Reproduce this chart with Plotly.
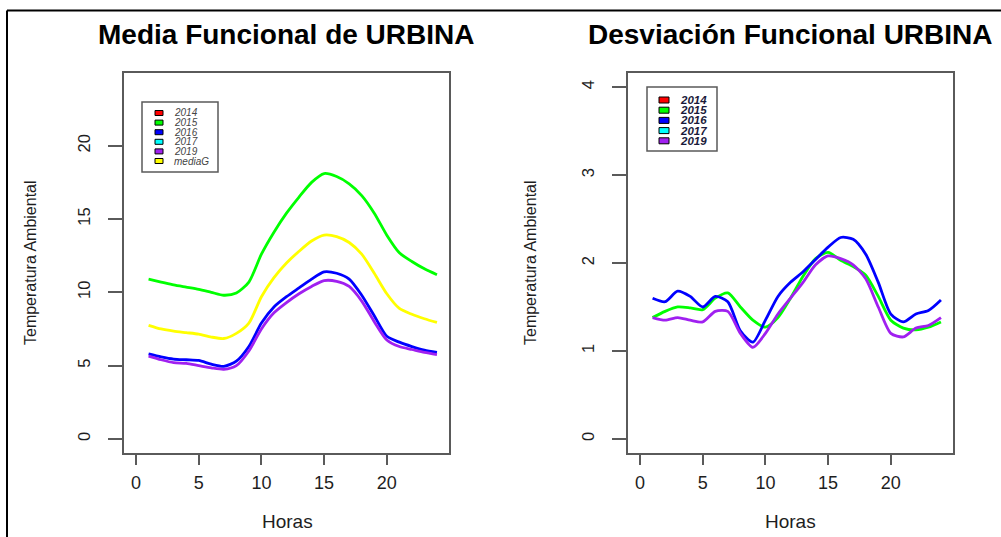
import plotly.graph_objects as go

# ---- data -------------------------------------------------------------
horas = list(range(1, 25))

# Media funcional (temperatura ambiental) por año
media_2015 = [10.9, 10.7, 10.5, 10.35, 10.2, 10.0, 9.8, 9.95, 10.7, 12.6, 14.1, 15.4,
              16.5, 17.5, 18.1, 17.9, 17.4, 16.6, 15.4, 13.9, 12.7, 12.1, 11.6, 11.2]
media_2016 = [5.8, 5.6, 5.45, 5.4, 5.35, 5.1, 4.95, 5.3, 6.3, 7.9, 9.0, 9.7,
              10.3, 10.9, 11.4, 11.3, 10.9, 9.8, 8.4, 7.0, 6.6, 6.3, 6.05, 5.9]
media_2019 = [5.65, 5.4, 5.2, 5.15, 5.0, 4.85, 4.75, 5.0, 6.0, 7.5, 8.6, 9.3,
              9.9, 10.4, 10.8, 10.75, 10.4, 9.4, 8.0, 6.75, 6.3, 6.1, 5.9, 5.75]
media_g = [7.75, 7.5, 7.35, 7.25, 7.15, 6.95, 6.85, 7.2, 7.9, 9.7, 11.0, 12.0,
           12.8, 13.5, 13.9, 13.8, 13.4, 12.6, 11.3, 9.9, 8.9, 8.5, 8.2, 7.95]

# Desviación funcional por año
desv_2015 = [1.38, 1.45, 1.5, 1.49, 1.47, 1.6, 1.66, 1.5, 1.35, 1.27, 1.38, 1.6,
             1.85, 2.05, 2.12, 2.03, 1.96, 1.86, 1.62, 1.35, 1.26, 1.24, 1.27, 1.33]
desv_2016 = [1.6, 1.56, 1.68, 1.62, 1.5, 1.62, 1.56, 1.23, 1.1, 1.35, 1.62, 1.78,
             1.9, 2.04, 2.18, 2.29, 2.27, 2.1, 1.78, 1.42, 1.33, 1.42, 1.46, 1.58]
desv_2019 = [1.38, 1.35, 1.38, 1.35, 1.33, 1.45, 1.45, 1.2, 1.04, 1.2, 1.42, 1.6,
             1.78, 1.98, 2.08, 2.05, 1.98, 1.82, 1.5, 1.2, 1.16, 1.26, 1.29, 1.38]

ticks_x = [0, 5, 10, 15, 20]
ticks_media = [0, 5, 10, 15, 20]
ticks_desv = [0, 1, 2, 3, 4]

leyenda_media = ["2014", "2015", "2016", "2017", "2019", "mediaG"]
colores_media = ["#FF0000", "#00FF00", "#0000FF", "#00FFFF", "#A020F0", "#FFFF00"]
leyenda_desv = ["2014", "2015", "2016", "2017", "2019"]
colores_desv = ["#FF0000", "#00FF00", "#0000FF", "#00FFFF", "#A020F0"]

# ---- layout helpers ------------------------------------------------------
W, H = 1001, 537
FONT = "Liberation Sans, Arial, sans-serif"
AXIS_COL = "#5a5a5a"
TXT_COL = "#1e1e1e"


def px(x):
    return x / W


def py(y):
    return 1 - y / H


fig = go.Figure()

lw = 2.8
for serie, col in [(media_2015, "#00FF00"), (media_g, "#FFFF00"),
                   (media_2016, "#0000FF"), (media_2019, "#A020F0")]:
    fig.add_trace(go.Scatter(x=horas, y=serie, mode="lines", xaxis="x", yaxis="y",
                             line=dict(color=col, width=lw, shape="spline", smoothing=0.7),
                             showlegend=False, hoverinfo="skip"))

for serie, col in [(desv_2015, "#00FF00"), (desv_2016, "#0000FF"), (desv_2019, "#A020F0")]:
    fig.add_trace(go.Scatter(x=horas, y=serie, mode="lines", xaxis="x2", yaxis="y2",
                             line=dict(color=col, width=lw, shape="spline", smoothing=0.7),
                             showlegend=False, hoverinfo="skip"))

common_axis = dict(showgrid=False, zeroline=False, showline=True, mirror=True,
                   linecolor=AXIS_COL, linewidth=1.5, ticks="outside",
                   tickcolor=AXIS_COL, tickwidth=1.5)

xax = dict(common_axis, range=[-0.96, 24.96], tickvals=ticks_x, ticklen=10,
           tickfont=dict(family=FONT, size=18, color=TXT_COL), ticklabelstandoff=3)
yax = dict(common_axis, ticklen=14, tickangle=-90,
           tickfont=dict(family=FONT, size=16.5, color=TXT_COL), ticklabelstandoff=12)

fig.update_layout(
    width=W, height=H, margin=dict(l=0, r=0, t=0, b=0),
    paper_bgcolor="white", plot_bgcolor="white", showlegend=False,
    xaxis=dict(xax, domain=[px(124), px(449)], anchor="y"),
    yaxis=dict(yax, domain=[py(453), py(73)], range=[-0.96, 24.96],
               tickvals=ticks_media, anchor="x"),
    xaxis2=dict(xax, domain=[px(628), px(953)], anchor="y2"),
    yaxis2=dict(yax, domain=[py(453), py(73)], range=[-0.16, 4.16],
                tickvals=ticks_desv, anchor="x2"),
)

shapes = []
annotations = []

# outer frame (top and left edges)
shapes.append(dict(type="line", xref="paper", yref="paper", x0=px(7), x1=1.0,
                   y0=py(10.5), y1=py(10.5), line=dict(color="black", width=2)))
shapes.append(dict(type="line", xref="paper", yref="paper", x0=px(7), x1=px(7),
                   y0=py(10.5), y1=0, line=dict(color="black", width=2)))


def titulo(texto, xc, yc, size):
    annotations.append(dict(text=f"<b>{texto}</b>", xref="paper", yref="paper",
                            x=px(xc), y=py(yc), xanchor="center", yanchor="middle",
                            showarrow=False, font=dict(family=FONT, size=size, color="black")))


titulo("Media Funcional de URBINA", 286, 35, 28)
titulo("Desviación Funcional URBINA", 790, 35, 28)

for xc in (287, 790):
    annotations.append(dict(text="Horas", xref="paper", yref="paper", x=px(xc), y=py(521),
                            xanchor="center", yanchor="middle", showarrow=False,
                            font=dict(family=FONT, size=19, color=TXT_COL)))
for xc in (30, 530):
    annotations.append(dict(text="Temperatura Ambiental", xref="paper", yref="paper",
                            x=px(xc), y=py(263), xanchor="center", yanchor="middle",
                            textangle=-90, showarrow=False,
                            font=dict(family=FONT, size=16, color=TXT_COL)))


def leyenda(nombres, colores, box, y0, dy, sq, tx, size, bold, txtcol):
    x0, x1, yt, yb = box
    shapes.append(dict(type="rect", xref="paper", yref="paper", x0=px(x0), x1=px(x1),
                       y0=py(yb), y1=py(yt), line=dict(color=AXIS_COL, width=1.5),
                       fillcolor="white"))
    sx0, sx1, sh = sq
    for i, (nom, col) in enumerate(zip(nombres, colores)):
        yc = y0 + i * dy
        shapes.append(dict(type="rect", xref="paper", yref="paper", x0=px(sx0), x1=px(sx1),
                           y0=py(yc + sh / 2), y1=py(yc - sh / 2),
                           line=dict(color="black", width=1), fillcolor=col))
        label = f"<i>{nom}</i>"
        if bold:
            label = f"<b>{label}</b>"
        annotations.append(dict(text=label, xref="paper", yref="paper", x=px(tx), y=py(yc),
                                xanchor="left", yanchor="middle", showarrow=False,
                                font=dict(family=FONT, size=size, color=txtcol)))


leyenda(leyenda_media, colores_media, (142, 218, 102, 172), 113, 9.6,
        (155, 163, 5), 172, 10, False, "#444444")
leyenda(leyenda_desv, colores_desv, (647, 717, 87, 151), 100, 10.2,
        (659, 669, 6), 678, 11.5, True, "#1a1a3a")

fig.update_layout(shapes=shapes, annotations=annotations)

fig.write_html("out.html")
